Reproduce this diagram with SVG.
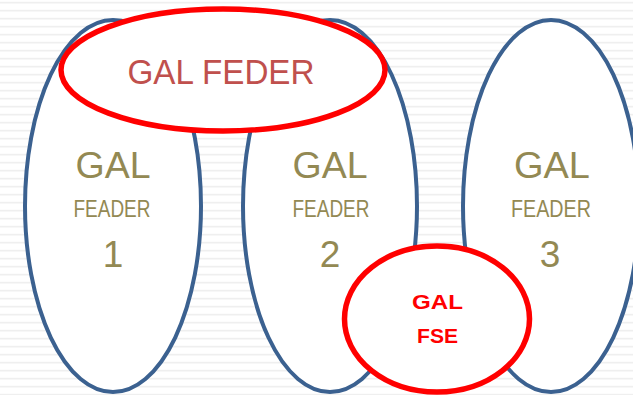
<svg xmlns="http://www.w3.org/2000/svg" width="633" height="395" viewBox="0 0 633 395">
  <style>
    .gal { fill: #FFFFFF; stroke: #3B6190; stroke-width: 4; }
    .red { fill: #FFFFFF; stroke: #FF0000; stroke-width: 5.5; }
    .t { font-family: "Liberation Sans", Arial, sans-serif; text-anchor: middle; fill: #938953; }
    .big { font-size: 36px; }
    .mid { font-size: 23.5px; }
    .num { font-size: 37px; }
    .feder { font-family: "Liberation Sans", Arial, sans-serif; text-anchor: middle; fill: #C0504D; font-size: 35px; }
    .fse { font-family: "Liberation Sans", Arial, sans-serif; text-anchor: middle; fill: #FF0000; font-size: 21px; font-weight: bold; }
  </style>
  <defs>
    <pattern id="lines" patternUnits="userSpaceOnUse" x="0" y="0" width="633" height="8">
      <rect x="0" y="1.8" width="633" height="1.7" fill="#EFEFEF"/>
    </pattern>
  </defs>
  <rect x="0" y="0" width="633" height="395" fill="#FFFFFF"/>
  <rect x="0" y="0" width="633" height="395" fill="url(#lines)"/>

  <g id="gal1">
    <ellipse class="gal" cx="113" cy="206" rx="88" ry="186"/>
    <text class="t big" x="113" y="178" textLength="75" lengthAdjust="spacingAndGlyphs">GAL</text>
    <text class="t mid" x="112" y="217" textLength="77" lengthAdjust="spacingAndGlyphs">FEADER</text>
    <text class="t num" x="113" y="267">1</text>
  </g>
  <g id="gal2">
    <ellipse class="gal" cx="330" cy="206" rx="87" ry="186"/>
    <text class="t big" x="330" y="178" textLength="75" lengthAdjust="spacingAndGlyphs">GAL</text>
    <text class="t mid" x="331" y="217" textLength="77" lengthAdjust="spacingAndGlyphs">FEADER</text>
    <text class="t num" x="330" y="267">2</text>
  </g>
  <g id="gal3">
    <ellipse class="gal" cx="551" cy="206" rx="88" ry="186"/>
    <text class="t big" x="552" y="178" textLength="76" lengthAdjust="spacingAndGlyphs">GAL</text>
    <text class="t mid" x="551" y="217" textLength="80" lengthAdjust="spacingAndGlyphs">FEADER</text>
    <text class="t num" x="550" y="267">3</text>
  </g>
  <g id="gal-feder">
    <ellipse class="red" cx="223" cy="70" rx="162" ry="61"/>
    <text class="feder" x="221" y="84" textLength="187" lengthAdjust="spacingAndGlyphs">GAL FEDER</text>
  </g>
  <g id="gal-fse">
    <ellipse class="red" cx="437" cy="319" rx="92.5" ry="73"/>
    <text class="fse" x="437.5" y="309" textLength="51" lengthAdjust="spacingAndGlyphs">GAL</text>
    <text class="fse" x="437.5" y="343" textLength="41" lengthAdjust="spacingAndGlyphs">FSE</text>
  </g>
</svg>
